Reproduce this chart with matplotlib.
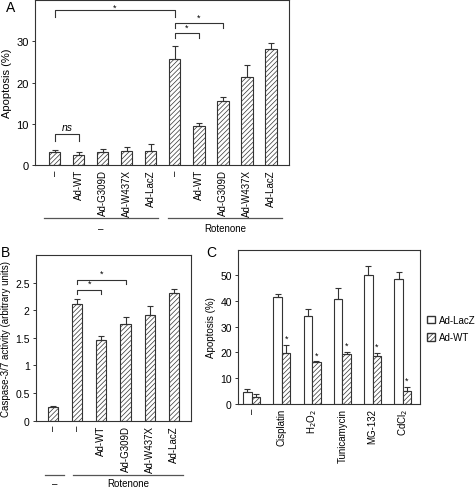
import matplotlib
matplotlib.use("Agg")
import matplotlib.pyplot as plt
import matplotlib.transforms as mtransforms
from matplotlib.patches import Patch
import numpy as np

plt.rcParams["font.family"] = ["Liberation Sans", "DejaVu Sans"]
plt.rcParams["font.size"] = 7
plt.rcParams["hatch.linewidth"] = 0.5
plt.rcParams["axes.linewidth"] = 0.8

EDGE = "#333333"
HATCH = "///////"

# Panel A: apoptosis (%) after rotenone
a_labels = ["–", "Ad-WT", "Ad-G309D", "Ad-W437X", "Ad-LacZ",
            "–", "Ad-WT", "Ad-G309D", "Ad-W437X", "Ad-LacZ"]
a_values = [3.1, 2.4, 3.2, 3.5, 3.5, 25.7, 9.5, 15.6, 21.3, 28.1]
a_errors = [0.5, 0.8, 0.7, 0.9, 1.5, 3.2, 0.8, 1.0, 2.9, 1.4]
a_groups = ["–", "Rotenone"]

# Panel B: caspase-3/7 activity
b_labels = ["–", "–", "Ad-WT", "Ad-G309D", "Ad-W437X", "Ad-LacZ"]
b_values = [0.24, 2.12, 1.47, 1.75, 1.92, 2.31]
b_errors = [0.03, 0.08, 0.07, 0.12, 0.15, 0.08]
b_groups = ["–", "Rotenone"]

# Panel C: apoptosis (%) with other stressors
c_labels = ["–", "Cisplatin", "H$_2$O$_2$", "Tunicamycin", "MG-132", "CdCl$_2$"]
c_lacz = [4.4, 41.4, 34.0, 40.8, 50.0, 48.6]
c_lacz_err = [1.2, 1.3, 2.9, 4.1, 3.8, 2.7]
c_wt = [2.5, 19.8, 16.2, 19.3, 18.4, 5.1]
c_wt_err = [1.2, 3.2, 0.3, 1.0, 1.4, 1.3]


def style_axes(ax, size=7.5):
    for s in ax.spines.values():
        s.set_color(EDGE)
        s.set_linewidth(0.8)
    ax.tick_params(axis="y", direction="out", length=2.5, width=0.7,
                   color=EDGE, pad=2, labelsize=size)
    ax.tick_params(axis="x", length=0, pad=3, labelsize=7)


def hatched_bars(ax, x, vals, errs, width):
    ax.bar(x, vals, width, color="white", edgecolor=EDGE, hatch=HATCH,
           linewidth=0.8, zorder=2)
    ax.errorbar(x, vals, yerr=[np.zeros(len(vals)), errs], fmt="none",
                ecolor=EDGE, elinewidth=0.8, capsize=2.5, capthick=0.8,
                zorder=3)


def bracket(ax, x1, x2, y, drop, text, text_dy, italic=False):
    ax.plot([x1, x1, x2, x2], [y - drop, y, y, y - drop], color=EDGE,
            lw=0.8, clip_on=False, zorder=4)
    ax.text((x1 + x2) / 2, y + text_dy, text, ha="center", va="bottom",
            fontsize=7.5 if italic else 6.5,
            style="italic" if italic else "normal")


def group_lines(ax, spans, names, y_line, y_text):
    trans = mtransforms.blended_transform_factory(ax.transData, ax.transAxes)
    for (x1, x2), name in zip(spans, names):
        ax.plot([x1, x2], [y_line, y_line], color="#555555", lw=0.9,
                transform=trans, clip_on=False)
        ax.text((x1 + x2) / 2, y_text, name, transform=trans,
                ha="center", va="center", fontsize=7)


fig = plt.figure(figsize=(4.77, 4.89), dpi=100)

# ---- Panel A
ax_a = fig.add_axes([0.0734, 0.6605, 0.5325, 0.3374])
xa = np.arange(len(a_values))
hatched_bars(ax_a, xa, a_values, a_errors, 0.46)
ax_a.set_xlim(-0.83, 9.75)
ax_a.set_ylim(0, 40)
ax_a.set_yticks([0, 10, 20, 30])
ax_a.set_xticks(xa)
ax_a.set_xticklabels(a_labels, rotation=90, va="top")
ax_a.set_ylabel("Apoptosis (%)", labelpad=3, fontsize=8)
style_axes(ax_a, 8)
bracket(ax_a, 0, 5, 37.5, 1.5, "*", -0.3)
bracket(ax_a, 5, 7, 34.5, 1.3, "*", 0.2)
bracket(ax_a, 5, 6, 32.0, 1.3, "*", 0.2)
bracket(ax_a, 0, 1, 7.5, 1.6, "ns", 0.6, italic=True)
group_lines(ax_a, [(-0.45, 4.3), (4.7, 9.45)], a_groups, -0.321, -0.38)

# ---- Panel B
ax_b = fig.add_axes([0.0755, 0.1376, 0.325, 0.3389])
xb = np.arange(len(b_values))
hatched_bars(ax_b, xb, b_values, b_errors, 0.43)
ax_b.set_xlim(-0.69, 5.7)
ax_b.set_ylim(0, 3.0)
ax_b.set_yticks([0, 0.5, 1, 1.5, 2, 2.5])
ax_b.set_yticklabels(["0", "0.5", "1", "1.5", "2", "2.5"])
ax_b.set_xticks(xb)
ax_b.set_xticklabels(b_labels, rotation=90, va="top")
ax_b.set_ylabel("Caspase-3/7 activity (arbitrary units)", labelpad=3,
                fontsize=7)
style_axes(ax_b, 7.5)
bracket(ax_b, 1, 3, 2.55, 0.08, "*", 0.04)
bracket(ax_b, 1, 2, 2.37, 0.08, "*", 0.04)
group_lines(ax_b, [(-0.32, 0.46), (0.84, 5.37)], b_groups, -0.326, -0.375)

# ---- Panel C
ax_c = fig.add_axes([0.499, 0.1724, 0.3816, 0.315])
xc = np.arange(len(c_labels))
w = 0.28
ax_c.bar(xc - w / 2, c_lacz, w, color="white", edgecolor=EDGE,
         linewidth=0.8, zorder=2, label="Ad-LacZ")
ax_c.errorbar(xc - w / 2, c_lacz, yerr=[np.zeros(6), c_lacz_err], fmt="none",
              ecolor=EDGE, elinewidth=0.8, capsize=2.5, capthick=0.8, zorder=3)
ax_c.bar(xc + w / 2, c_wt, w, color="white", edgecolor=EDGE, hatch=HATCH,
         linewidth=0.8, zorder=2, label="Ad-WT")
ax_c.errorbar(xc + w / 2, c_wt, yerr=[np.zeros(6), c_wt_err], fmt="none",
              ecolor=EDGE, elinewidth=0.8, capsize=2.5, capthick=0.8, zorder=3)
for i in range(1, 6):
    ax_c.text(xc[i] + w / 2, c_wt[i] + c_wt_err[i] + 0.8, "*",
              ha="center", va="bottom", fontsize=6.5)
ax_c.set_xlim(-0.45, 5.57)
ax_c.set_ylim(0, 60)
ax_c.set_yticks([0, 10, 20, 30, 40, 50])
ax_c.set_xticks(xc)
ax_c.set_xticklabels(c_labels, rotation=90, va="top")
ax_c.set_ylabel("Apoptosis (%)", labelpad=3, fontsize=7)
style_axes(ax_c, 7.5)
ax_c.legend(handles=[Patch(facecolor="white", edgecolor=EDGE, label="Ad-LacZ"),
                     Patch(facecolor="white", edgecolor=EDGE, hatch=HATCH,
                           label="Ad-WT")],
            loc="upper left", bbox_to_anchor=(0.896, 1 - 316 / 489),
            bbox_transform=fig.transFigure, frameon=False, fontsize=7,
            handlelength=0.8, handleheight=0.8, handletextpad=0.35,
            labelspacing=0.75, borderaxespad=0, borderpad=0)

# panel letters
fig.text(0.012, 0.997, "A", fontsize=10, va="top", ha="left")
fig.text(0.002, 1 - 246 / 489, "B", fontsize=10, va="top", ha="left")
fig.text(0.433, 1 - 246 / 489, "C", fontsize=10, va="top", ha="left")

fig.savefig("out.png", dpi=100)
